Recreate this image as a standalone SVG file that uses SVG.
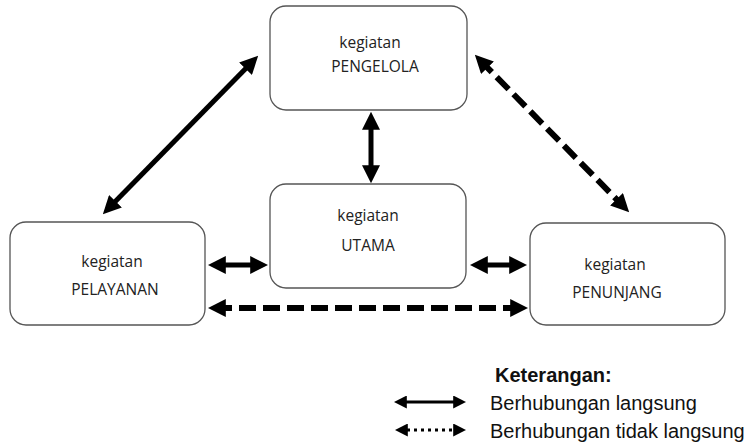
<svg xmlns="http://www.w3.org/2000/svg" width="754" height="447" viewBox="0 0 754 447">
  <style>
    .box { fill: #ffffff; stroke: #555555; stroke-width: 1.3; }
    .lbl { font-family: "Open Sans", "Liberation Sans", sans-serif; font-size: 15.5px; fill: #222222; text-anchor: middle; }
    .solid { stroke: #000000; stroke-width: 5; fill: none; }
    .dash { stroke: #000000; stroke-width: 6; fill: none; stroke-dasharray: 17 7; }
    .dot { stroke: #000000; stroke-width: 3; fill: none; stroke-dasharray: 3 4; }
    .legend { font-family: "Liberation Sans", Arial, sans-serif; font-size: 20px; fill: #111111; }
  </style>
  <defs>
    <!-- arrowhead whose tip sits 0.4 of its length beyond the line end -->
    <marker id="head" viewBox="0 0 10 10" refX="6" refY="5" markerUnits="userSpaceOnUse" markerWidth="18" markerHeight="18" orient="auto-start-reverse">
      <path d="M0,0 L10,5 L0,10 Z" fill="#000000"/>
    </marker>
    <marker id="headS" viewBox="0 0 10 10" refX="6" refY="5" markerUnits="userSpaceOnUse" markerWidth="13" markerHeight="13" orient="auto-start-reverse">
      <path d="M0,0 L10,5 L0,10 Z" fill="#000000"/>
    </marker>
  </defs>

  <g id="pengelola">
    <rect class="box" x="270" y="6" width="197" height="104" rx="16"/>
    <text class="lbl" x="370" y="48">kegiatan</text>
    <text class="lbl" x="375" y="72">PENGELOLA</text>
  </g>
  <g id="utama">
    <rect class="box" x="270" y="184" width="196" height="104" rx="16"/>
    <text class="lbl" x="368" y="221">kegiatan</text>
    <text class="lbl" x="368" y="251">UTAMA</text>
  </g>
  <g id="pelayanan">
    <rect class="box" x="10" y="222" width="195" height="103" rx="16"/>
    <text class="lbl" x="112" y="267">kegiatan</text>
    <text class="lbl" x="115" y="295">PELAYANAN</text>
  </g>
  <g id="penunjang">
    <rect class="box" x="530" y="223" width="195" height="102" rx="16"/>
    <text class="lbl" x="615" y="270">kegiatan</text>
    <text class="lbl" x="617" y="298">PENUNJANG</text>
  </g>

  <g id="connectors">
    <line class="solid" x1="107.9" y1="209" x2="253.1" y2="61" marker-start="url(#head)" marker-end="url(#head)"/>
    <line class="dash" x1="479.9" y1="60" x2="624.1" y2="207" marker-start="url(#head)" marker-end="url(#head)"/>
    <line class="solid" x1="371" y1="119" x2="371" y2="176" marker-start="url(#head)" marker-end="url(#head)"/>
    <line class="solid" x1="215" y1="265" x2="261" y2="265" marker-start="url(#head)" marker-end="url(#head)"/>
    <line class="solid" x1="477" y1="265" x2="520" y2="265" marker-start="url(#head)" marker-end="url(#head)"/>
    <line class="dash" x1="215" y1="308" x2="521" y2="308" marker-start="url(#head)" marker-end="url(#head)"/>
  </g>

  <g id="legend">
    <text class="legend" x="495" y="382" font-weight="bold">Keterangan:</text>
    <line stroke="#000" stroke-width="3" x1="399" y1="402" x2="461" y2="402" marker-start="url(#headS)" marker-end="url(#headS)"/>
    <text class="legend" x="490" y="410">Berhubungan langsung</text>
    <line class="dot" x1="400" y1="430" x2="461" y2="430" marker-start="url(#headS)" marker-end="url(#headS)"/>
    <text class="legend" x="490" y="438">Berhubungan tidak langsung</text>
  </g>
</svg>
